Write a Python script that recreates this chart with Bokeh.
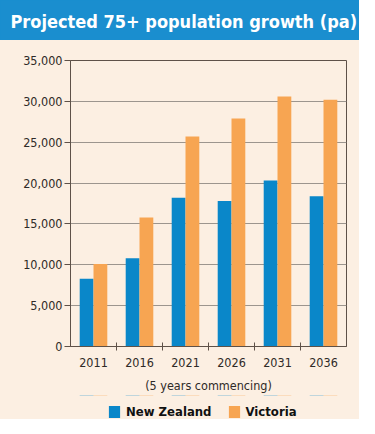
from bokeh.plotting import figure
from bokeh.layouts import column
from bokeh.models import (Range1d, FixedTicker, NumeralTickFormatter, Legend, LegendItem)
from bokeh.embed import file_html
from bokeh.resources import INLINE

# ---- data ----
years = ["2011", "2016", "2021", "2026", "2031", "2036"]
new_zealand = [8300, 10800, 18200, 17800, 20300, 18400]
victoria = [10100, 15800, 25700, 27900, 30600, 30200]
series_names = ["New Zealand", "Victoria"]
y_ticks = [0, 5000, 10000, 15000, 20000, 25000, 30000, 35000]
title_text = "Projected 75+ population growth (pa)"
x_label = "(5 years commencing)"

BG = "#fcefe2"
BANNER = "#1a8ecf"
BLUE = "#0a87c9"
ORANGE = "#f7a552"
AXIS = "#5e5148"
GRID = "#9c958e"
TXT = "#2e2a27"
FONT = "DejaVu Sans Condensed"

W = 359
BANNER_H = 40
LEGEND_H = 24

# ---- title banner ----
b = figure(width=W, height=BANNER_H, output_backend="svg", toolbar_location=None,
           x_range=Range1d(0, 1), y_range=Range1d(0, 1),
           min_border_left=0, min_border_right=0, min_border_top=31, min_border_bottom=0,
           title=title_text, styles={"background-color": BANNER})
b.axis.visible = False
b.grid.visible = False
b.outline_line_color = None
b.background_fill_color = BANNER
b.border_fill_color = BANNER
b.title.align = "left"
b.title.offset = -60
b.title.standoff = 0
b.title.text_color = "white"
b.title.text_font = FONT
b.title.text_font_style = "bold"
b.title.text_font_size = "18px"

# ---- chart ----
p = figure(frame_width=276, frame_height=286, output_backend="svg", toolbar_location=None,
           x_range=Range1d(0, len(years)), y_range=Range1d(0, 35000),
           min_border_left=70, min_border_right=13, min_border_top=20, min_border_bottom=0,
           styles={"background-color": BG})
p.background_fill_color = BG
p.border_fill_color = BG
p.outline_line_color = AXIS
p.outline_line_width = 1

n = len(years)
bw = 0.30
centers = [i + 0.5 for i in range(n)]
p.vbar(x=[c - bw / 2 for c in centers], top=new_zealand, width=bw,
       fill_color=BLUE, line_color=None)
p.vbar(x=[c + bw / 2 for c in centers], top=victoria, width=bw,
       fill_color=ORANGE, line_color=None)

# y axis
p.yaxis.ticker = FixedTicker(ticks=y_ticks, minor_ticks=[])
p.yaxis.formatter = NumeralTickFormatter(format="0,0")
p.yaxis.axis_line_color = AXIS
p.yaxis.major_tick_line_color = AXIS
p.yaxis.major_tick_in = 0
p.yaxis.major_tick_out = 6
p.yaxis.major_label_standoff = 2
p.yaxis.major_label_text_font = FONT
p.yaxis.major_label_text_font_size = "12.5px"
p.yaxis.major_label_text_color = TXT
p.ygrid.ticker = FixedTicker(ticks=y_ticks)
p.ygrid.grid_line_color = GRID
p.ygrid.grid_line_width = 1
p.xgrid.grid_line_color = None

# x axis: labels at group centres, tick marks at group boundaries
p.xaxis.ticker = FixedTicker(ticks=centers, minor_ticks=list(range(1, n)))
p.xaxis.major_label_overrides = {c: y for c, y in zip(centers, years)}
p.xaxis.major_tick_line_color = None
p.xaxis.minor_tick_line_color = AXIS
p.xaxis.minor_tick_in = 4
p.xaxis.minor_tick_out = 4
p.xaxis.axis_line_color = AXIS
p.xaxis.major_label_standoff = 5
p.xaxis.major_label_text_font = FONT
p.xaxis.major_label_text_font_size = "12.5px"
p.xaxis.major_label_text_color = TXT
p.xaxis.axis_label = x_label
p.xaxis.axis_label_text_font = FONT
p.xaxis.axis_label_text_font_size = "12.5px"
p.xaxis.axis_label_text_font_style = "normal"
p.xaxis.axis_label_text_color = TXT
p.xaxis.axis_label_standoff = 8

# ---- legend strip: same series, plotted outside its visible range so only the key shows ----
lf = figure(width=W, height=LEGEND_H, output_backend="svg", toolbar_location=None,
            x_range=Range1d(0, len(years)), y_range=Range1d(-2, -1),
            min_border_left=70, min_border_right=13, min_border_top=0, min_border_bottom=0,
            styles={"background-color": BG})
lf.axis.visible = False
lf.grid.visible = False
lf.outline_line_color = None
lf.background_fill_color = BG
lf.border_fill_color = BG
lr_nz = lf.vbar(x=[c - bw / 2 for c in centers], top=new_zealand, width=bw,
                fill_color=BLUE, line_color=None)
lr_vic = lf.vbar(x=[c + bw / 2 for c in centers], top=victoria, width=bw,
                 fill_color=ORANGE, line_color=None)
legend = Legend(items=[LegendItem(label=series_names[0], renderers=[lr_nz]),
                       LegendItem(label=series_names[1], renderers=[lr_vic])],
                orientation="horizontal", location=(37, 0),
                border_line_color=None, background_fill_alpha=0,
                label_text_font=FONT, label_text_font_style="bold",
                label_text_font_size="13px", label_text_color="#111111",
                glyph_width=14, glyph_height=15, label_height=15,
                spacing=15, label_standoff=5, padding=2, margin=0)
lf.add_layout(legend)

layout = column(b, p, lf, spacing=0, styles={"background-color": BG})
open("out.html", "w").write(file_html(layout, INLINE))
